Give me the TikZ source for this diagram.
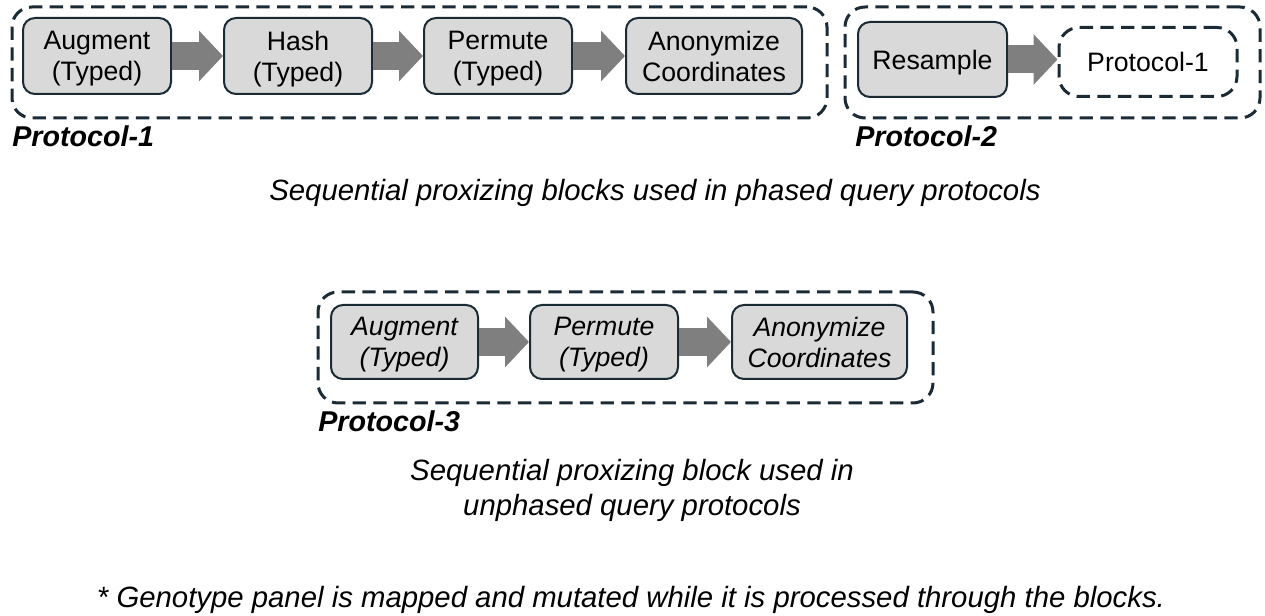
\documentclass[tikz,border=0pt]{standalone}
\usepackage{fontspec}
\setmainfont{Liberation Sans}
\usetikzlibrary{arrows.meta}
\definecolor{boxfill}{HTML}{D9D9D9}
\definecolor{boxline}{HTML}{1B2B36}
\definecolor{arrowgray}{HTML}{7F7F7F}
\tikzset{
  blockbox/.style={draw=boxline, line width=1.5pt, fill=boxfill, rounded corners=9pt,
    inner sep=0pt, align=center, minimum height=57pt, text depth=0pt,
    font=\fontsize{20}{23.25}\selectfont},
  framebox/.style={draw=boxline, line width=2.25pt, dash pattern=on 10pt off 5.5pt,
    rounded corners=15pt, inner sep=0pt},
  flowarrow/.style={draw=arrowgray, line width=21pt,
    -{Triangle[length=18pt,width=37pt]}},
  protolabel/.style={font=\fontsize{21.5}{24}\selectfont\bfseries\itshape, inner sep=0pt, anchor=base west},
  caption/.style={font=\fontsize{22}{26.25}\selectfont\itshape, inner sep=0pt, align=center}
}
\begin{document}
\begin{tikzpicture}[x=0.75pt,y=-0.75pt]
\useasboundingbox (0,0) rectangle (1265,616);
% Protocol-1 frame
\node[framebox, minimum width=611.25pt, minimum height=83.25pt] (f1) at (419.5,62.5) {};
\node[blockbox, minimum width=111pt] (a1) at (97,56) {Augment\\(Typed)};
\node[blockbox, minimum width=111pt] (h1) at (298,56) {Hash\\(Typed)};
\node[blockbox, minimum width=111pt] (p1) at (498,56) {Permute\\(Typed)};
\node[blockbox, minimum width=132pt] (c1) at (714,56) {Anonymize\\Coordinates};
\draw[flowarrow] (a1.east) -- (h1.west);
\draw[flowarrow] (h1.east) -- (p1.west);
\draw[flowarrow] (p1.east) -- (c1.west);
\node[protolabel] (l1) at (12,147) {Protocol-1};
% Protocol-2 frame
\node[framebox, minimum width=311.25pt, minimum height=83.25pt] (f2) at (1052.5,62.5) {};
\node[blockbox, minimum width=111.75pt, minimum height=56.25pt] (rs) at (932.5,59.5) {Resample};
\node[framebox, minimum width=133.5pt, minimum height=51.75pt,
  font=\fontsize{20}{23.25}\selectfont] (pin) at (1148,62) {Protocol-1};
\draw[flowarrow] (rs.east) -- (rs.east -| pin.west);
\node[protolabel] (l2) at (855,147) {Protocol-2};
% Caption 1
\node[caption, anchor=base] (cap1) at (655,201) {Sequential proxizing blocks used in phased query protocols};
% Protocol-3 frame
\node[framebox, minimum width=461.25pt, minimum height=83.25pt] (f3) at (625.5,347.5) {};
\node[blockbox, minimum width=110.25pt, minimum height=55.5pt, font=\fontsize{20}{23.25}\selectfont\itshape] (a3) at (404.5,342) {Augment\\(Typed)};
\node[blockbox, minimum width=111pt, minimum height=55.5pt, font=\fontsize{20}{23.25}\selectfont\itshape] (p3) at (604,342) {Permute\\(Typed)};
\node[blockbox, minimum width=131.25pt, minimum height=55.5pt, font=\fontsize{20}{23.25}\selectfont\itshape] (c3) at (819.5,342) {Anonymize\\Coordinates};
\draw[flowarrow] (a3.east) -- (p3.west);
\draw[flowarrow] (p3.east) -- (c3.west);
\node[protolabel] (l3) at (318,432) {Protocol-3};
% Caption 2
\node[caption, anchor=base] (cap2) at (632,516) {Sequential proxizing block used in\\unphased query protocols};
% Footnote
\node[caption, anchor=base] (note) at (631,608) {* Genotype panel is mapped and mutated while it is processed through the blocks.};
\end{tikzpicture}
\end{document}
